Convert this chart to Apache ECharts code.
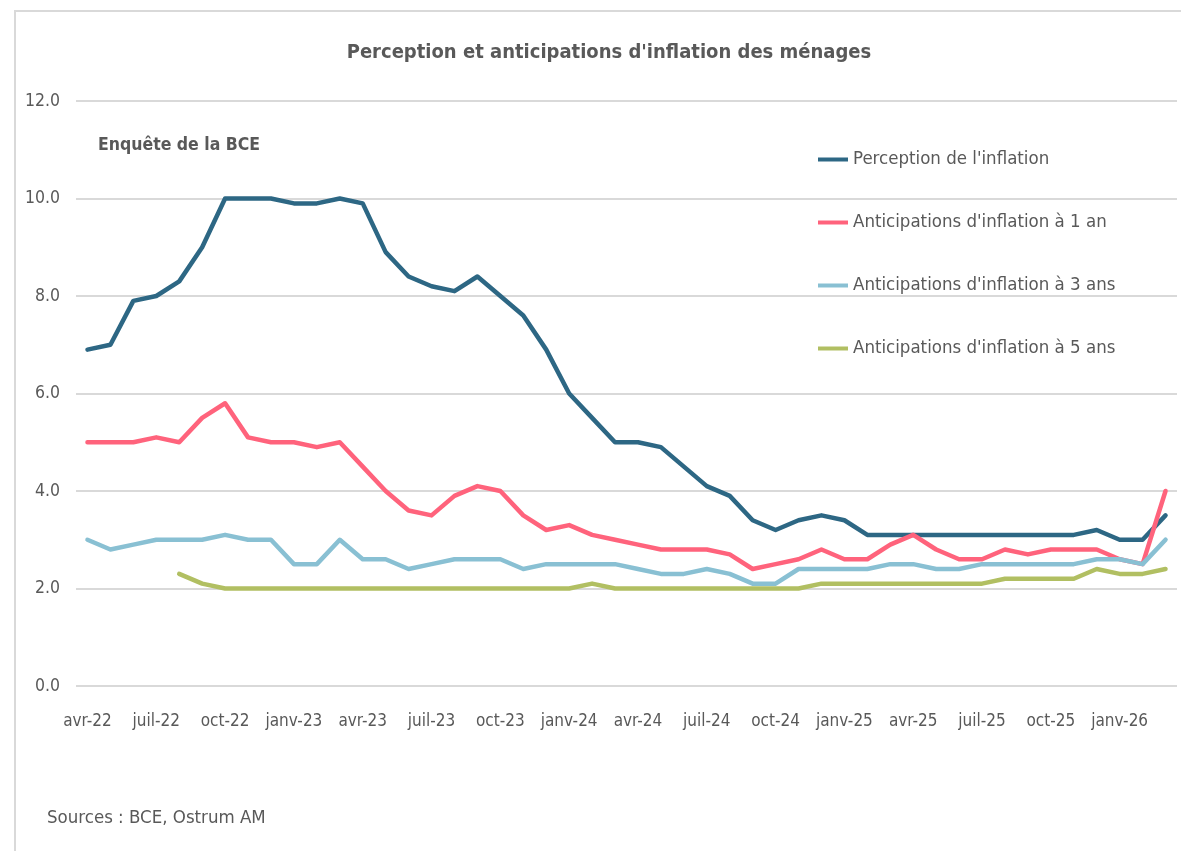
<!DOCTYPE html>
<html>
<head>
<meta charset="utf-8">
<script src="https://cdn.jsdelivr.net/npm/echarts@6/dist/echarts.min.js"></script>
<style>
  html, body { margin: 0; padding: 0; background: #fff; overflow: hidden; width: 1181px; height: 851px; }
  #frame {
    position: absolute; left: 14px; top: 10px; width: 1167px; height: 841px;
    border-left: 2px solid #d9d9d9; border-top: 2px solid #d9d9d9;
    box-sizing: border-box;
  }
  #chart { position: absolute; left: 0; top: 0; width: 1181px; height: 851px; }
</style>
</head>
<body>
<div id="frame"></div>
<div id="chart"></div>
<script>
const FONT = "'Liberation Sans Narrow', 'Arial Narrow', 'DejaVu Sans Condensed', sans-serif";
const colors = {
  perception: "#2d6784",
  oneYear: "#ff637c",
  threeYears: "#89c0d3",
  fiveYears: "#b1bf62",
  text: "#595959",
  grid: "#d9d9d9",
};

// avr-22 .. mars-26, monthly
const months = [
  "avr-22", "mai-22", "juin-22", "juil-22", "août-22", "sept-22", "oct-22", "nov-22", "déc-22",
  "janv-23", "févr-23", "mars-23", "avr-23", "mai-23", "juin-23", "juil-23", "août-23", "sept-23",
  "oct-23", "nov-23", "déc-23", "janv-24", "févr-24", "mars-24", "avr-24", "mai-24", "juin-24",
  "juil-24", "août-24", "sept-24", "oct-24", "nov-24", "déc-24", "janv-25", "févr-25", "mars-25",
  "avr-25", "mai-25", "juin-25", "juil-25", "août-25", "sept-25", "oct-25", "nov-25", "déc-25",
  "janv-26", "févr-26", "mars-26",
];

const perception = [
  6.9, 7.0, 7.9, 8.0, 8.3, 9.0, 10.0, 10.0, 10.0, 9.9, 9.9, 10.0,
  9.9, 8.9, 8.4, 8.2, 8.1, 8.4, 8.0, 7.6, 6.9, 6.0, 5.5, 5.0,
  5.0, 4.9, 4.5, 4.1, 3.9, 3.4, 3.2, 3.4, 3.5, 3.4, 3.1, 3.1,
  3.1, 3.1, 3.1, 3.1, 3.1, 3.1, 3.1, 3.1, 3.2, 3.0, 3.0, 3.5,
];
const oneYear = [
  5.0, 5.0, 5.0, 5.1, 5.0, 5.5, 5.8, 5.1, 5.0, 5.0, 4.9, 5.0,
  4.5, 4.0, 3.6, 3.5, 3.9, 4.1, 4.0, 3.5, 3.2, 3.3, 3.1, 3.0,
  2.9, 2.8, 2.8, 2.8, 2.7, 2.4, 2.5, 2.6, 2.8, 2.6, 2.6, 2.9,
  3.1, 2.8, 2.6, 2.6, 2.8, 2.7, 2.8, 2.8, 2.8, 2.6, 2.5, 4.0,
];
const threeYears = [
  3.0, 2.8, 2.9, 3.0, 3.0, 3.0, 3.1, 3.0, 3.0, 2.5, 2.5, 3.0,
  2.6, 2.6, 2.4, 2.5, 2.6, 2.6, 2.6, 2.4, 2.5, 2.5, 2.5, 2.5,
  2.4, 2.3, 2.3, 2.4, 2.3, 2.1, 2.1, 2.4, 2.4, 2.4, 2.4, 2.5,
  2.5, 2.4, 2.4, 2.5, 2.5, 2.5, 2.5, 2.5, 2.6, 2.6, 2.5, 3.0,
];
const fiveYears = [
  null, null, null, null, 2.3, 2.1, 2.0, 2.0, 2.0, 2.0, 2.0, 2.0,
  2.0, 2.0, 2.0, 2.0, 2.0, 2.0, 2.0, 2.0, 2.0, 2.0, 2.1, 2.0,
  2.0, 2.0, 2.0, 2.0, 2.0, 2.0, 2.0, 2.0, 2.1, 2.1, 2.1, 2.1,
  2.1, 2.1, 2.1, 2.1, 2.2, 2.2, 2.2, 2.2, 2.4, 2.3, 2.3, 2.4,
];

const seriesNames = [
  "Perception de l'inflation",
  "Anticipations d'inflation à 1 an",
  "Anticipations d'inflation à 3 ans",
  "Anticipations d'inflation à 5 ans",
];

const chart = echarts.init(document.getElementById("chart"), null, { renderer: "canvas" });

const makeLine = (name, data, color) => ({
  name,
  type: "line",
  data,
  showSymbol: false,
  symbol: "none",
  connectNulls: false,
  lineStyle: { color, width: 4.5, cap: "round", join: "round" },
  itemStyle: { color },
});

const options = {
  animation: false,
  title: {
    text: "Perception et anticipations d'inflation des ménages",
    left: 604,
    top: 38,
    textAlign: "center",
    textStyle: { fontFamily: FONT, fontSize: 20, fontWeight: "bold", color: colors.text },
  },
  graphic: [
    {
      type: "text",
      left: 98,
      top: 136,
      style: { text: "Enquête de la BCE", fontFamily: FONT, fontSize: 17.5, fontWeight: "bold", fill: colors.text },
    },
    {
      type: "text",
      left: 47,
      top: 809,
      style: { text: "Sources : BCE, Ostrum AM", fontFamily: FONT, fontSize: 18.5, fill: colors.text },
    },
  ],
  legend: {
    orient: "vertical",
    left: 813,
    top: 145,
    itemWidth: 30,
    itemHeight: 4,
    itemGap: 44,
    icon: "rect",
    data: seriesNames,
    textStyle: { fontFamily: FONT, fontSize: 18.5, color: colors.text },
  },
  grid: { left: 76, right: 4, top: 101, bottom: 165 },
  xAxis: {
    type: "category",
    data: months,
    boundaryGap: true,
    axisLine: { show: false },
    axisTick: { show: false },
    axisLabel: {
      interval: 2,
      margin: 27,
      color: colors.text,
      fontFamily: FONT,
      fontSize: 17,
    },
  },
  yAxis: {
    type: "value",
    min: 0,
    max: 12,
    interval: 2,
    axisLine: { show: false },
    axisTick: { show: false },
    axisLabel: {
      margin: 16,
      color: colors.text,
      fontFamily: FONT,
      fontSize: 17.5,
      formatter: (v) => v.toFixed(1),
    },
    splitLine: { lineStyle: { color: colors.grid, width: 2 } },
  },
  series: [
    makeLine(seriesNames[0], perception, colors.perception),
    makeLine(seriesNames[1], oneYear, colors.oneYear),
    makeLine(seriesNames[2], threeYears, colors.threeYears),
    makeLine(seriesNames[3], fiveYears, colors.fiveYears),
  ],
};

chart.setOption(options);
</script>
</body>
</html>
